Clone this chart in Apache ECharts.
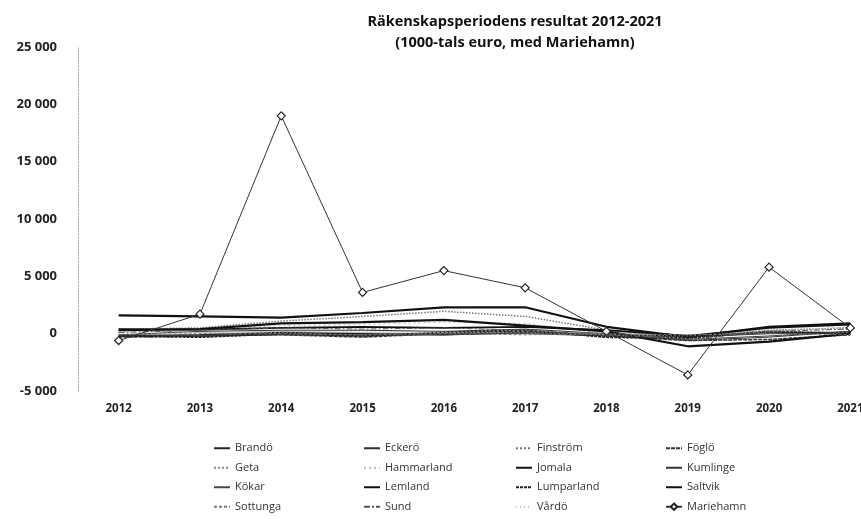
<!DOCTYPE html>
<html><head><meta charset="utf-8">
<script src="https://cdn.jsdelivr.net/npm/echarts@6/dist/echarts.min.js"></script>
<style>html,body{margin:0;padding:0;background:#fff}#c{width:861px;height:519px}</style>
</head><body><div id="c"></div>
<script>
const years = ['2012','2013','2014','2015','2016','2017','2018','2019','2020','2021'];
const yTicks = [-5000, 0, 5000, 10000, 15000, 20000, 25000];

const brando     = [-200, -100, 100, 0, -100, 100, -100, -200, 100, 100];
const eckero     = [-100, 200, 300, 300, 200, 400, 0, -600, -300, 200];
const finstrom   = [400, 500, 1100, 1500, 1950, 1500, 300, -200, 300, 500];
const foglo      = [-300, -200, -100, -300, 0, 200, -200, -600, -500, -100];
const geta       = [300, 100, 200, 100, 200, 100, 100, -100, 100, 0];
const hammarland = [200, 300, 700, 800, 1000, 900, 0, -400, 200, 600];
const jomala     = [1600, 1500, 1400, 1800, 2300, 2300, 600, -300, 600, 900];
const kumlinge   = [-200, -200, 0, -100, -100, 100, -100, -300, 0, 100];
const kokar      = [-100, -200, -100, -200, 0, 0, -200, -500, -200, 200];
const lemland    = [300, 400, 900, 1000, 1200, 700, 200, -1100, -700, 0];
const lumparland = [-200, -300, 0, -200, 100, 300, -300, -400, 200, 0];
const saltvik    = [400, 350, 500, 600, 500, 600, 300, -200, 500, 800];
const sottunga   = [-100, 0, 0, -100, 0, -100, 0, -100, 0, -100];
const sund       = [100, 300, 500, 400, 500, 300, -100, -500, 200, 400];
const vardo      = [0, 100, 100, 200, 100, 100, -100, -200, 300, 100];
const mariehamn  = [-600, 1700, 19000, 3600, 5500, 4000, 200, -3600, 5800, 500];

function fmt(v){ const s = Math.abs(v).toString().replace(/\B(?=(\d{3})+(?!\d))/g,' '); return (v<0?'-':'')+s; }

function ln(name, data, color, width, type){
  return { name, type:'line', data, symbol:'none', showSymbol:false, silent:true,
    lineStyle:{ color, width, type }, itemStyle:{ color }, emphasis:{disabled:true} };
}
const series = [
  ln('Brandö', brando, '#222', 1.5, 'solid'),
  ln('Eckerö', eckero, '#333', 1, 'solid'),
  ln('Finström', finstrom, '#777', 1.5, 'dotted'),
  ln('Föglö', foglo, '#333', 1.5, [4,1]),
  ln('Geta', geta, '#888', 1, 'dotted'),
  ln('Hammarland', hammarland, '#bbb', 1, [2,3]),
  ln('Jomala', jomala, '#111', 2.2, 'solid'),
  ln('Kumlinge', kumlinge, '#333', 1, 'solid'),
  ln('Kökar', kokar, '#444', 1, 'solid'),
  ln('Lemland', lemland, '#111', 2.2, 'solid'),
  ln('Lumparland', lumparland, '#222', 2, [3,1]),
  ln('Saltvik', saltvik, '#111', 1.8, 'solid'),
  ln('Sottunga', sottunga, '#777', 1, [3,2]),
  ln('Sund', sund, '#555', 1, [6,2,2,2]),
  ln('Vårdö', vardo, '#bbb', 1, [1,3]),
  { name:'Mariehamn', type:'line', data:mariehamn, symbol:'diamond', symbolSize:8, showSymbol:true, silent:true, z:5,
    lineStyle:{ color:'#333', width:1 }, itemStyle:{ color:'#fff', borderColor:'#222', borderWidth:1.2 }, emphasis:{disabled:true} }
];

const names = series.map(s=>s.name);
function legItem(n){
  return n === 'Mariehamn' ? { name:n } : { name:n, itemStyle:{ opacity:0 } };
}
const cols = [213, 363, 515, 665];
const legends = cols.map((x,i)=>({
  orient:'vertical', left:x, top:441, height:90, padding:0, itemGap:5, itemWidth:16, itemHeight:8,
  data:[legItem(names[i]), legItem(names[i+4]), legItem(names[i+8]), legItem(names[i+12])],
  textStyle:{ fontFamily:'Open Sans', fontSize:11, color:'#333', lineHeight:14.5 },
  selectedMode:false
}));

const chart = echarts.init(document.getElementById('c'), null, {renderer:'canvas'});
chart.setOption({
  animation:false,
  backgroundColor:'#fff',
  title:{ text:'Räkenskapsperiodens resultat 2012-2021\n(1000-tals euro, med Mariehamn)', left:510, textAlign:'center', top:6,
    textStyle:{ fontFamily:'Open Sans', fontWeight:'bold', fontSize:14.5, color:'#111', lineHeight:21 } },
  legend: legends,
  grid:{ left:78, top:47, width:813, height:344, outerBoundsMode:'none', containLabel:false },
  xAxis:{ type:'category', data:years, boundaryGap:true,
    axisLine:{ show:false, onZero:false }, axisTick:{show:false},
    axisLabel:{ fontFamily:'Open Sans', fontWeight:'bold', fontSize:11.5, color:'#222', margin:12 } },
  yAxis:{ type:'value', min:yTicks[0], max:yTicks[yTicks.length-1], interval:5000,
    axisLine:{ show:true, lineStyle:{ color:'#999', type:[1,2], width:1 } }, axisTick:{show:false},
    splitLine:{show:false},
    axisLabel:{ fontFamily:'Open Sans', fontWeight:'bold', fontSize:13, color:'#222', margin:21, formatter:fmt } },
  series
});
</script></body></html>
